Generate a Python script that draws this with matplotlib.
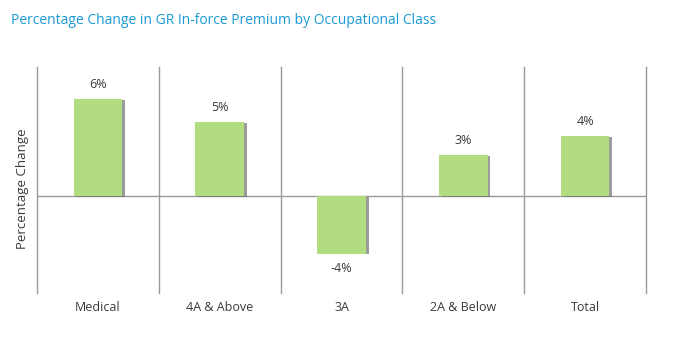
import numpy as np
import matplotlib.pyplot as plt
import matplotlib.patheffects as pe

plt.rcParams['font.family'] = ['Open Sans', 'DejaVu Sans']

categories = ['Medical', '4A & Above', '3A', '2A & Below', 'Total']
changes = [6.0, 4.6, -3.55, 2.55, 3.7]

bar_color = '#b1dd80'
grid_color = '#9a9a9a'
text_color = '#3a3a3a'
title_color = '#1b9ad6'


def main():
    fig = plt.figure(figsize=(6.74, 3.4), dpi=100)
    ax = fig.add_axes([0.055, 0.138, 0.9035, 0.665])

    x = np.arange(len(categories))
    bars = ax.bar(x, changes, width=0.4, color=bar_color, zorder=3)
    for b in bars:
        b.set_path_effects([pe.SimplePatchShadow(offset=(2.0, -0.6), shadow_rgbFace='0.45', alpha=0.7),
                            pe.Normal()])

    # value labels, rounded to whole percent
    for xi, v in zip(x, changes):
        if v >= 0:
            ax.text(xi, v + 0.5, '{:.0f}%'.format(v), ha='center', va='bottom',
                    fontsize=9, color=text_color)
        else:
            ax.text(xi, v - 0.5, '{:.0f}%'.format(v), ha='center', va='top',
                    fontsize=9, color=text_color)

    # category separators and zero line
    for b in np.arange(-0.5, len(categories), 1.0):
        ax.axvline(b, color=grid_color, lw=1, zorder=1, clip_on=False)
    ax.axhline(0, color=grid_color, lw=1, zorder=2)

    ax.set_xlim(-0.5, len(categories) - 0.5)
    ax.set_ylim(-6, 8)
    for s in ax.spines.values():
        s.set_visible(False)
    ax.set_yticks([])
    ax.set_xticks(x)
    ax.set_xticklabels(categories, fontsize=9, color=text_color)
    ax.tick_params(axis='x', length=0, pad=6)

    ax.set_ylabel('Percentage Change', fontsize=9.5, color=text_color)
    ax.yaxis.set_label_coords(-0.014, 0.46)

    fig.text(0.017, 0.94, 'Percentage Change in GR In-force Premium by Occupational Class',
             fontsize=10, color=title_color, ha='left', va='center')

    fig.savefig('out.png', dpi=100)


if __name__ == "__main__":
    main()
